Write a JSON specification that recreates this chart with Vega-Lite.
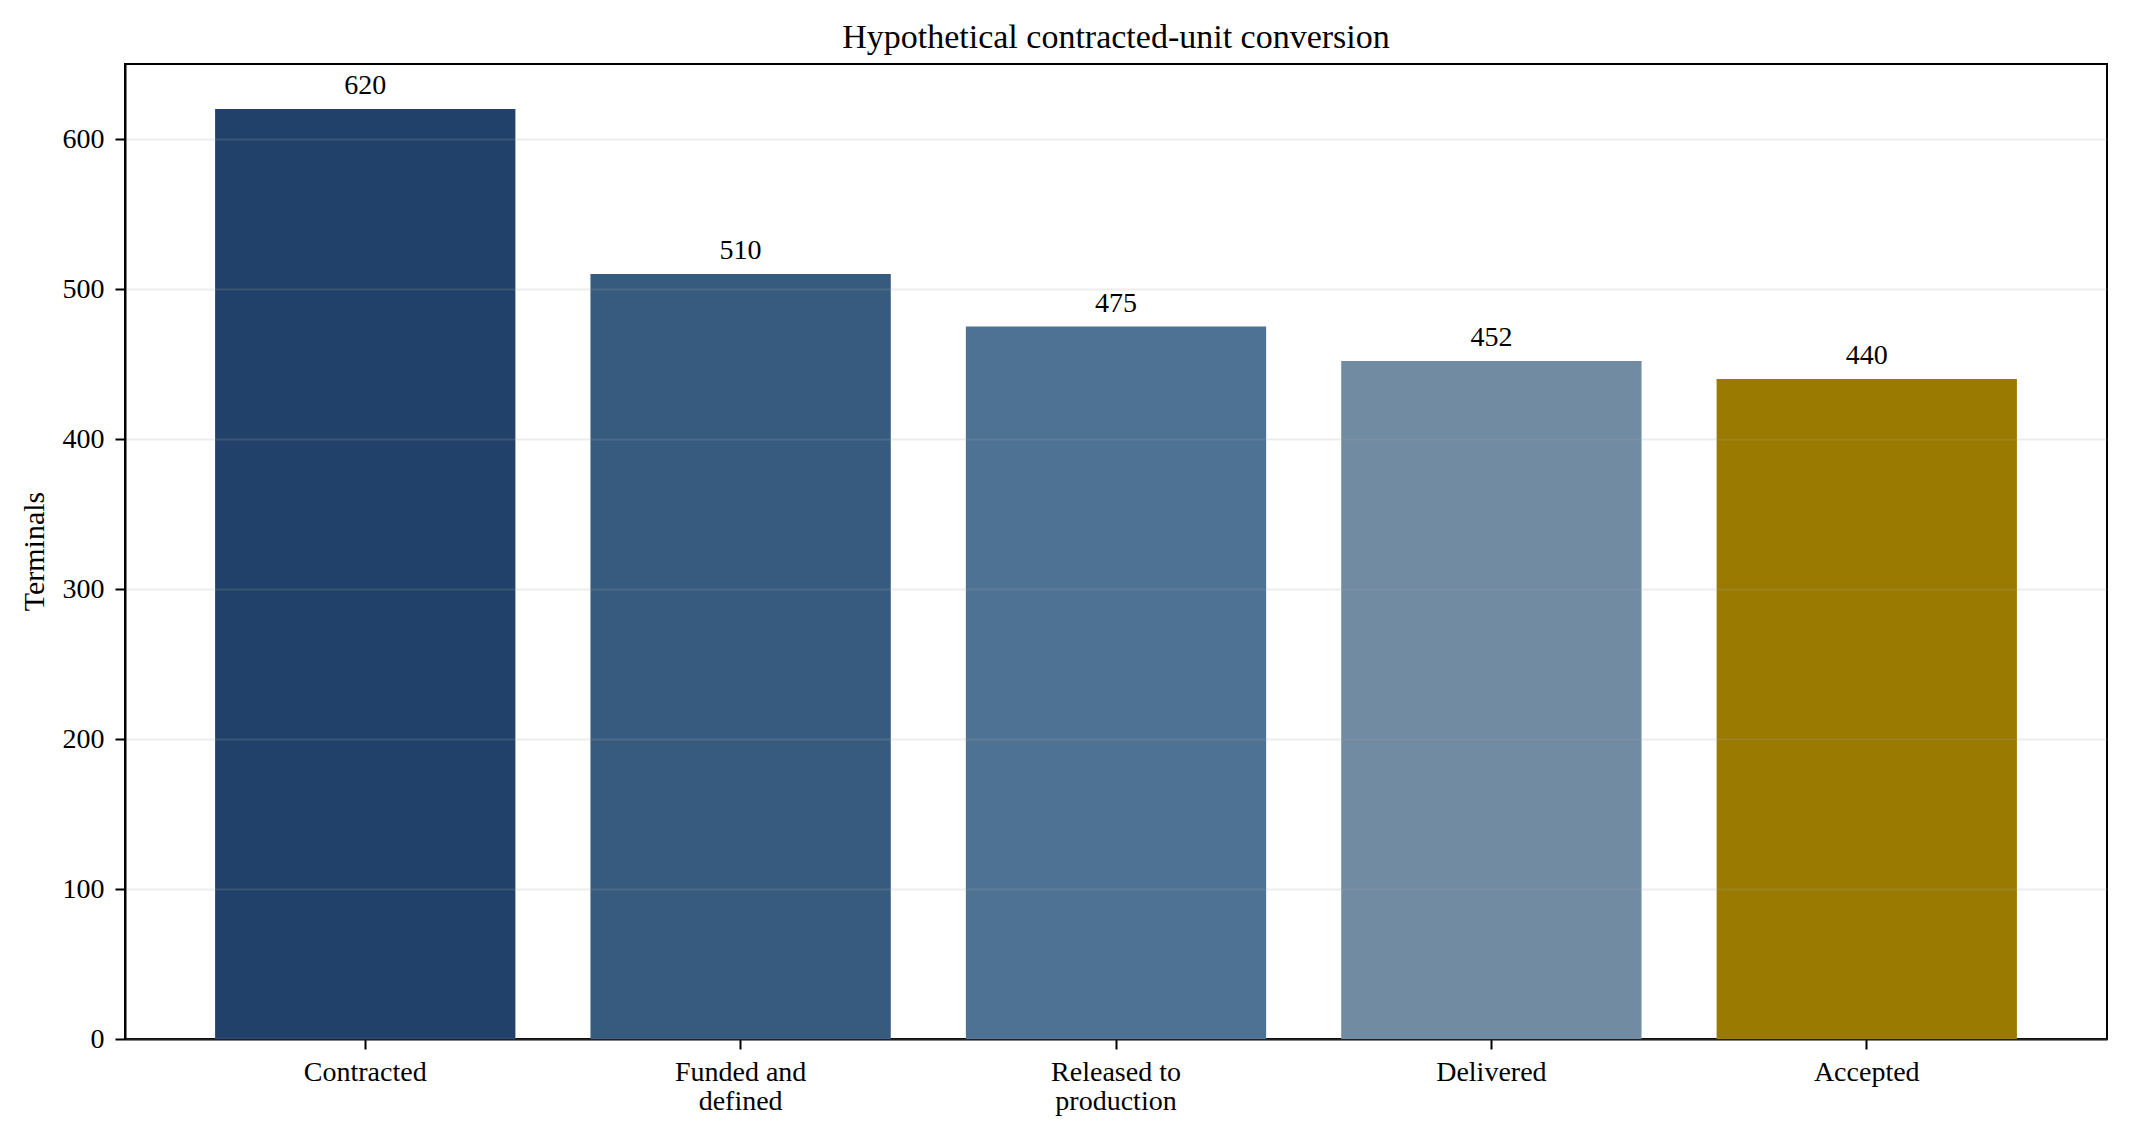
{
  "$schema": "https://vega.github.io/schema/vega-lite/v6.json",
  "width": 1982,
  "height": 975,
  "autosize": {"type": "none"},
  "padding": {"left": 125, "top": 64, "right": 22, "bottom": 104},
  "background": "white",
  "config": {
    "font": "Liberation Serif",
    "view": {"stroke": "black", "strokeWidth": 2},
    "axis": {
      "domainColor": "black",
      "domainWidth": 2,
      "tickColor": "black",
      "tickWidth": 2,
      "tickSize": 10,
      "labelColor": "black",
      "labelFont": "Liberation Serif",
      "labelFontSize": 28,
      "titleFont": "Liberation Serif",
      "titleFontWeight": "normal",
      "titleColor": "black"
    }
  },
  "title": {
    "text": "Hypothetical contracted-unit conversion",
    "font": "Liberation Serif",
    "fontSize": 34,
    "fontWeight": "normal",
    "color": "black",
    "anchor": "middle",
    "frame": "group",
    "baseline": "alphabetic",
    "offset": 17,
    "dy": 35
  },
  "data": {
    "values": [
      {"stage": "Contracted", "terminals": 620},
      {"stage": "Funded and defined", "terminals": 510},
      {"stage": "Released to production", "terminals": 475},
      {"stage": "Delivered", "terminals": 452},
      {"stage": "Accepted", "terminals": 440}
    ]
  },
  "encoding": {
    "x": {
      "field": "stage",
      "type": "nominal",
      "sort": null,
      "scale": {"paddingInner": 0.2, "paddingOuter": 0.24},
      "axis": {
        "title": null,
        "labelAngle": 0,
        "labelPadding": 9,
        "labelLineHeight": 29,
        "labelExpr": "datum.value == 'Funded and defined' ? ['Funded and', 'defined'] : datum.value == 'Released to production' ? ['Released to', 'production'] : datum.label"
      }
    },
    "y": {
      "field": "terminals",
      "type": "quantitative",
      "scale": {"domain": [0, 650], "nice": false},
      "axis": {
        "title": "Terminals",
        "titleFontSize": 30,
        "titleAngle": -90,
        "titleX": -91,
        "titleY": 487,
        "titleAlign": "center",
        "titleBaseline": "middle",
        "values": [0, 100, 200, 300, 400, 500, 600],
        "labelPadding": 11,
        "grid": true,
        "gridColor": "#a3a3a3",
        "gridOpacity": 0.2,
        "gridWidth": 2,
        "zindex": 1
      }
    }
  },
  "layer": [
    {
      "mark": {"type": "bar"},
      "encoding": {
        "color": {
          "field": "stage",
          "type": "nominal",
          "sort": null,
          "legend": null,
          "scale": {
            "domain": ["Contracted", "Funded and defined", "Released to production", "Delivered", "Accepted"],
            "range": ["#22416a", "#375a7f", "#4e7294", "#718ba3", "#9a7a00"]
          }
        }
      }
    },
    {
      "mark": {"type": "text", "baseline": "alphabetic", "dy": -15, "fontSize": 28, "color": "black"},
      "encoding": {
        "text": {"field": "terminals", "type": "quantitative"}
      }
    }
  ]
}
